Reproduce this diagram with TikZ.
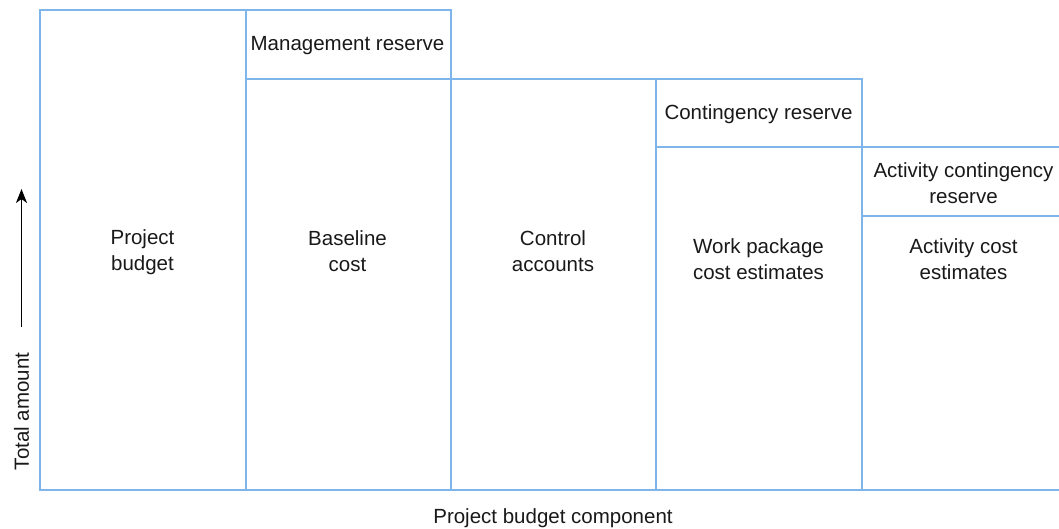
\documentclass[tikz,border=0pt]{standalone}
\usepackage{fontspec}
\setmainfont{Liberation Sans}
\usetikzlibrary{arrows.meta}
\definecolor{boxline}{RGB}{126,182,236}
\tikzset{
  boxrect/.style={draw=boxline, line width=2pt},
  lbl/.style={align=center, inner sep=0pt, font=\fontsize{20.5}{26}\selectfont, text=black!90},
}
\begin{document}
\begin{tikzpicture}[x=1pt,y=-1pt]
\useasboundingbox (0,0) rectangle (1059,528);
\clip (0,0) rectangle (1059,528);
% boxes
\draw[boxrect] (40,10) rectangle (245.5,490);
\draw[boxrect] (245.5,10) rectangle (450.5,78.5);
\draw[boxrect] (245.5,78.5) rectangle (450.5,490);
\draw[boxrect] (450.5,78.5) rectangle (656,490);
\draw[boxrect] (656,78.5) rectangle (861.5,147);
\draw[boxrect] (656,147) rectangle (861.5,490);
\draw[boxrect] (861.5,147) rectangle (1067,216);
\draw[boxrect] (861.5,216) rectangle (1067,490);
% labels
\node[lbl] (pb) at (142.5,252) {Project\\budget};
\node[lbl] (mr) at (347.5,46) {Management reserve};
\node[lbl] (bc) at (347.5,251) {Baseline\\cost};
\node[lbl] (ca) at (553,251) {Control\\accounts};
\node[lbl] (cr) at (758.5,114) {Contingency reserve};
\node[lbl] (wp) at (758.5,259) {Work package\\cost estimates};
\node[lbl] (acr) at (963.5,183) {Activity contingency\\reserve};
\node[lbl] (ace) at (963.5,259) {Activity cost\\estimates};
% axes labels
\node[lbl, anchor=base] (xl) at (553,523) {Project budget component};
\node[lbl, rotate=90] (yl) at (21.5,411.5) {Total amount};
\coordinate (ab) at (21.5,327);
\coordinate (at) at (21.5,189);
\draw[line width=1.8pt, -{Stealth[length=14pt,width=11pt,inset=4pt]}] (ab) -- (at);
\end{tikzpicture}
\end{document}
